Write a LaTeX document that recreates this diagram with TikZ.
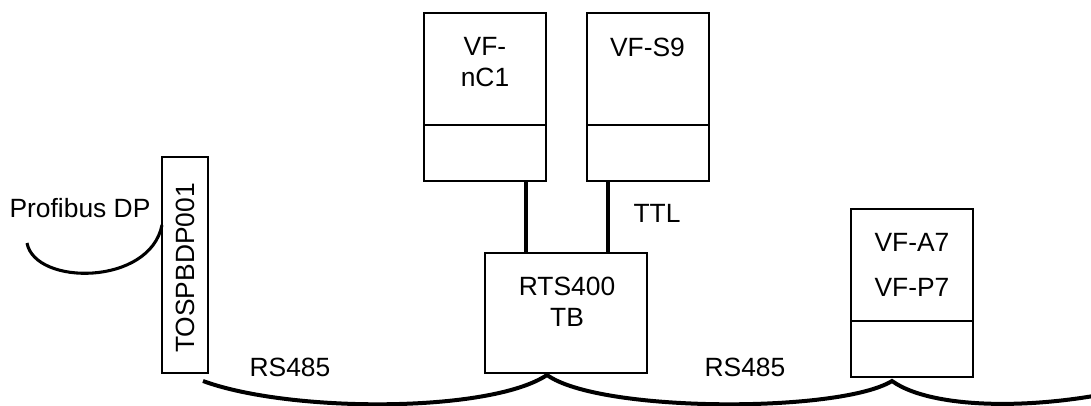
\documentclass[tikz,border=0pt]{standalone}
\usepackage{fontspec}
\setmainfont{Liberation Sans}
\usetikzlibrary{calc}
\tikzset{
  every node/.style={font=\fontsize{19.8}{23.3}\selectfont},
  unit/.style={draw,line width=1.5pt,outer sep=0pt,inner sep=0pt,minimum width=91.5pt,minimum height=126pt},
  rtsbox/.style={draw,line width=1.5pt,outer sep=0pt,inner sep=0pt,minimum width=121.5pt,minimum height=90pt},
  tospbox/.style={draw,line width=1.5pt,outer sep=0pt,inner sep=0pt,minimum width=34.5pt,minimum height=162pt},
  boxline/.style={line width=1.5pt},
  wire/.style={line width=3pt},
  bus/.style={line width=3pt},
  fieldbus/.style={line width=2.3pt}
}
\begin{document}
\begin{tikzpicture}[x=0.75pt,y=0.75pt]
		\useasboundingbox (0,0) rectangle (1091,405);
		\clip (0,0) rectangle (1091,405);
		
		\node[unit] (nc1) at (485,308) {};
		\node[unit] (s9) at (647.5,308) {};
		\node[unit] (a7) at (912,112) {};
		\node[rtsbox] (rts) at (566,92) {};
		\node[tospbox] (tosp) at (185,140) {};
		
		\draw[boxline] ($(nc1.south west)+(0,56)$) -- ($(nc1.south east)+(0,56)$);
		\draw[boxline] ($(s9.south west)+(0,56)$) -- ($(s9.south east)+(0,56)$);
		\draw[boxline] ($(a7.south west)+(0,56)$) -- ($(a7.south east)+(0,56)$);
		
		\node[align=center] (nc1name) at (485,342.5) {VF-\\nC1};
		\node (s9name) at (647.5,358) {VF-S9};
		\node[align=center] (a7name) at (912,140.5) {VF-A7\\[10.5pt]VF-P7};
		\node[align=center] (rtsname) at (567,103.5) {RTS400\\TB};
		\node[rotate=90] (tospname) at (185,137) {TOSPBDP001};
		\node (ttl) at (657,192) {TTL};
		\node (rsleft) at (290,38) {RS485};
		\node (rsright) at (745,38) {RS485};
		\node (profibus) at (80,197) {Profibus DP};
		
		\draw[wire] ($(nc1.south)+(41,0)$) coordinate (w1) -- (w1 |- rts.north);
		\draw[wire] ($(s9.south)+(-40,0)$) coordinate (w2) -- (w2 |- rts.north);
		
		\coordinate (b0) at ($(tosp.south east)+(-5,-8)$);
		\coordinate (b1) at ($(rts.south)+(-19,-2)$);
		\coordinate (b2) at ($(a7.south)+(-20,-4)$);
		\coordinate (b3) at (1170,27);
		\draw[bus] (b0) .. controls (290,-8) and (490,-8) .. (b1)
			.. controls (600,-8) and (840,-8) .. (b2)
			.. controls (935,-7) and (1060,-7) .. (b3);
		
		\coordinate (p0) at (27,162);
		\draw[fieldbus] (p0) .. controls (35,119) and (150,119) .. ($(tosp.west)+(0,40)$);
	\end{tikzpicture}
\end{document}
